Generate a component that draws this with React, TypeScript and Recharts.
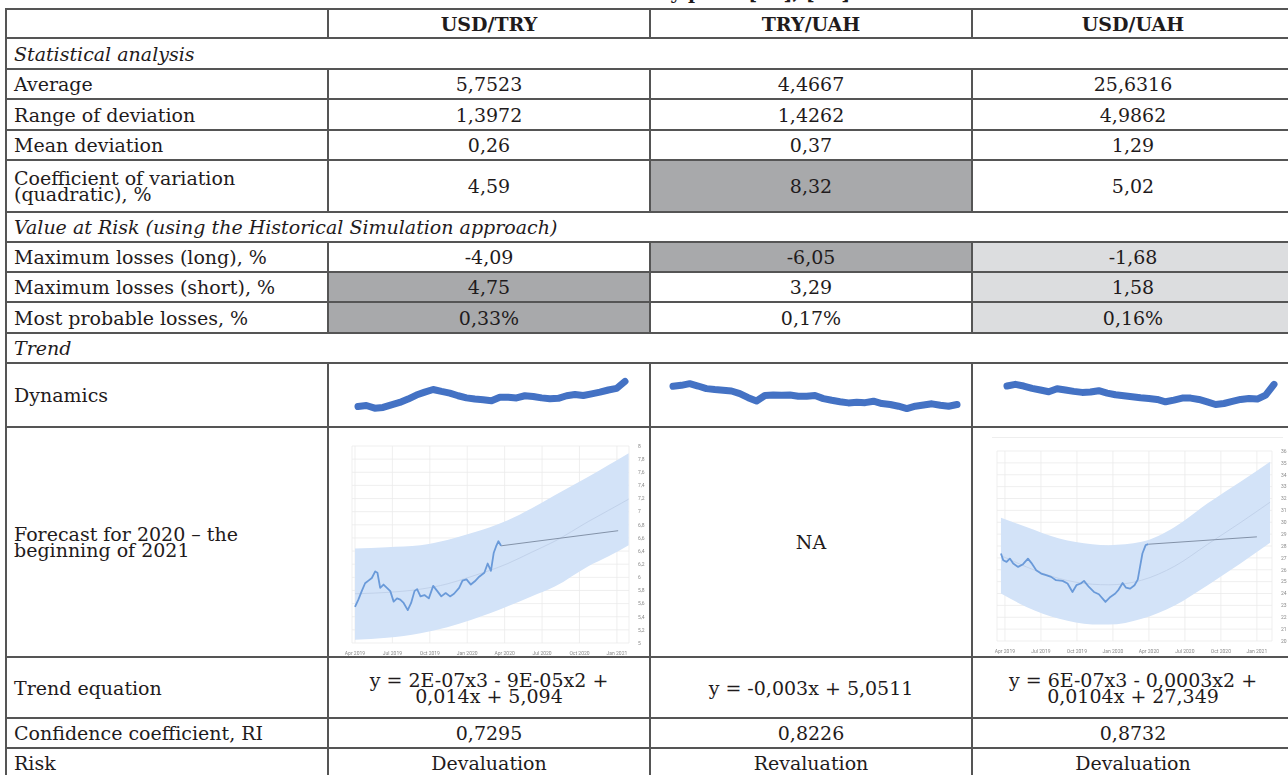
import React from 'react';
import {
  ComposedChart,
  LineChart,
  Line,
  Area,
  XAxis,
  YAxis,
  CartesianGrid,
} from 'recharts';

// table text
const pairs = ['USD/TRY', 'TRY/UAH', 'USD/UAH'];
const averageValues = ['5,7523', '4,4667', '25,6316'];
const rangeValues = ['1,3972', '1,4262', '4,9862'];
const meanDeviationValues = ['0,26', '0,37', '1,29'];
const variationValues = ['4,59', '8,32', '5,02'];
const lossesLongValues = ['-4,09', '-6,05', '-1,68'];
const lossesShortValues = ['4,75', '3,29', '1,58'];
const probableLossValues = ['0,33%', '0,17%', '0,16%'];
const trendEquations = [
  'y = 2E-07x3 - 9E-05x2 +\n0,014x + 5,094',
  'y = -0,003x + 5,0511',
  'y = 6E-07x3 - 0,0003x2 +\n0,0104x + 27,349',
];
const confidenceValues = ['0,7295', '0,8226', '0,8732'];
const riskValues = ['Devaluation', 'Revaluation', 'Devaluation'];

// dynamics sparklines (rates, evenly spaced observations)
const usdTryDynamics = [
  5.44, 5.48, 5.37, 5.4, 5.51, 5.61, 5.75, 5.92, 6.04, 6.15, 6.07, 6.0, 5.89,
  5.8, 5.75, 5.72, 5.68, 5.83, 5.83, 5.8, 5.89, 5.86, 5.8, 5.76, 5.78, 5.89,
  5.94, 5.9, 5.97, 6.04, 6.13, 6.2, 6.49,
];
const tryUahDynamics = [
  4.91, 4.95, 5.02, 4.92, 4.81, 4.77, 4.74, 4.71, 4.6, 4.43, 4.29, 4.52, 4.54,
  4.53, 4.54, 4.49, 4.49, 4.52, 4.39, 4.32, 4.26, 4.21, 4.24, 4.22, 4.28, 4.18,
  4.14, 4.07, 3.97, 4.07, 4.12, 4.17, 4.11, 4.07, 4.14,
];
const usdUahDynamics = [
  28.04, 28.39, 28.04, 27.55, 27.2, 26.85, 27.48, 27.2, 26.92, 26.71, 26.78,
  27.06, 26.57, 26.22, 26.01, 25.8, 25.59, 25.45, 25.24, 24.75, 25.1, 25.52,
  25.52, 25.24, 24.75, 24.19, 24.4, 24.82, 25.24, 25.45, 25.31, 26.15, 28.39,
];

// forecast charts: x = months since Apr 2019
const monthTicks = [0, 3, 6, 9, 12, 15, 18, 21];
const monthLabels = ['Apr 2019', 'Jul 2019', 'Oct 2019', 'Jan 2020', 'Apr 2020', 'Jul 2020', 'Oct 2020', 'Jan 2021'];

const usdTryTicks = [5, 5.2, 5.4, 5.6, 5.8, 6, 6.2, 6.4, 6.6, 6.8, 7, 7.2, 7.4, 7.6, 7.8, 8];
const usdTryActualMonths = [
  0, 0.27, 0.54, 0.81, 1.08, 1.35, 1.62, 1.8, 2.02, 2.29, 2.56, 2.83, 3.1,
  3.37, 3.63, 3.9, 4.23, 4.5, 4.77, 4.98, 5.25, 5.57, 5.92, 6.27, 6.6, 6.92,
  7.27, 7.62, 7.94, 8.35, 8.62, 8.94, 9.29, 9.61, 9.96, 10.37, 10.64, 10.9,
  11.12, 11.31, 11.5, 11.71,
];
const usdTryActual = [
  5.55, 5.66, 5.79, 5.91, 5.95, 5.99, 6.09, 6.07, 5.84, 5.89, 5.84, 5.79, 5.63,
  5.68, 5.66, 5.61, 5.5, 5.61, 5.79, 5.82, 5.71, 5.73, 5.68, 5.87, 5.79, 5.71,
  5.76, 5.71, 5.75, 5.84, 5.95, 5.97, 5.89, 5.94, 6.01, 6.07, 6.21, 6.1, 6.37,
  6.47, 6.55, 6.48,
];
const usdTryBandMonths = [0, 2.56, 5.25, 7.4, 9.29, 12.25, 14.14, 16.02, 18.71, 20.33, 21.94];
const usdTryBandLow = [5.05, 5.08, 5.15, 5.24, 5.35, 5.56, 5.71, 5.86, 6.17, 6.32, 6.49];
const usdTryBandHigh = [6.44, 6.46, 6.49, 6.57, 6.67, 6.87, 7.05, 7.25, 7.53, 7.71, 7.89];
const usdTryTrend = [5.75, 5.77, 5.82, 5.9, 6.01, 6.21, 6.38, 6.55, 6.85, 7.02, 7.19];
const usdTryForecastMonths = [11.71, 21.1];
const usdTryForecast = [6.48, 6.71];

const usdUahTicks = [20, 21, 22, 23, 24, 25, 26, 27, 28, 29, 30, 31, 32, 33, 34, 35, 36];
const usdUahActualMonths = [
  -0.33, -0.14, 0.14, 0.41, 0.69, 1.1, 1.51, 1.92, 2.2, 2.61, 3.02, 3.43, 3.85,
  4.26, 4.81, 5.22, 5.63, 5.96, 6.32, 6.59, 7.0, 7.42, 7.83, 8.38, 8.79, 9.2,
  9.48, 9.81, 10.08, 10.44, 10.8, 11.07, 11.26, 11.46, 11.73, 11.95,
];
const usdUahActual = [
  27.37, 26.8, 26.66, 26.94, 26.52, 26.24, 26.47, 26.94, 26.58, 25.96, 25.68,
  25.54, 25.4, 25.12, 25.06, 24.84, 24.13, 24.7, 24.84, 25.06, 24.55, 24.13,
  23.94, 23.29, 23.71, 24.0, 24.33, 24.89, 24.5, 24.41, 24.7, 25.17, 26.24,
  27.37, 28.07, 28.15,
];
const usdUahBandMonths = [-0.33, 1.79, 4.53, 7.28, 8.65, 11.4, 14.15, 16.9, 19.6, 22.1];
const usdUahBandLow = [24.0, 22.87, 21.88, 21.4, 21.38, 21.88, 23.0, 24.7, 26.5, 28.27];
const usdUahBandHigh = [30.38, 29.6, 28.63, 28.15, 28.07, 28.35, 29.6, 31.6, 33.4, 35.1];
const usdUahTrend = [27.19, 26.24, 25.26, 24.78, 24.73, 25.12, 26.3, 28.15, 29.95, 31.69];
const usdUahForecastMonths = [11.95, 21.0];
const usdUahForecast = [28.15, 28.77];

const FONT = '"DejaVu Serif", serif';
const INK = '#1f1b1c';
const LINE = '#555';
const DARK = '#a8a9ab';
const LIGHT = '#dcdddf';

const COLS = [6, 328, 650, 972, 1294];
const LINES = [9, 38, 69, 99, 130, 160, 212, 242, 272, 302, 333, 363, 427, 657, 718, 748, 778];

type Row = {
  kind: 'header' | 'section' | 'data';
  label: string;
  cells?: string[];
  fills?: (string | null)[];
};

const rows: Row[] = [
  { kind: 'header', label: '', cells: pairs },
  { kind: 'section', label: 'Statistical analysis' },
  { kind: 'data', label: 'Average', cells: averageValues },
  { kind: 'data', label: 'Range of deviation', cells: rangeValues },
  { kind: 'data', label: 'Mean deviation', cells: meanDeviationValues },
  { kind: 'data', label: 'Coefficient of variation\n(quadratic), %', cells: variationValues, fills: [null, DARK, null] },
  { kind: 'section', label: 'Value at Risk (using the Historical Simulation approach)' },
  { kind: 'data', label: 'Maximum losses (long), %', cells: lossesLongValues, fills: [null, DARK, LIGHT] },
  { kind: 'data', label: 'Maximum losses (short), %', cells: lossesShortValues, fills: [DARK, null, LIGHT] },
  { kind: 'data', label: 'Most probable losses, %', cells: probableLossValues, fills: [DARK, null, LIGHT] },
  { kind: 'section', label: 'Trend' },
  { kind: 'data', label: 'Dynamics', cells: ['', '', ''] },
  { kind: 'data', label: 'Forecast for 2020 \u2013 the\nbeginning of 2021', cells: ['', 'NA', ''] },
  { kind: 'data', label: 'Trend equation', cells: trendEquations },
  { kind: 'data', label: 'Confidence coefficient, RI', cells: confidenceValues },
  { kind: 'data', label: 'Risk', cells: riskValues },
];

function Sparkline({ values, left, top, width, height, domain }: {
  values: number[]; left: number; top: number; width: number; height: number; domain: [number, number];
}) {
  const data = values.map((v, i) => ({ i, v }));
  return (
    <div style={{ position: 'absolute', left, top, filter: 'blur(0.35px)' }}>
      <LineChart width={width} height={height} data={data} margin={{ top: 5, right: 5, bottom: 5, left: 5 }}>
        <XAxis dataKey="i" type="number" domain={[0, values.length - 1]} hide />
        <YAxis domain={domain} hide />
        <Line
          dataKey="v"
          stroke="#4472c4"
          strokeWidth={7}
          strokeLinejoin="round"
          strokeLinecap="round"
          dot={false}
          isAnimationActive={false}
        />
      </LineChart>
    </div>
  );
}

const fmtTick = (v: number) => String(v).replace('.', ',');

function ForecastChart({
  left, top, width, height, plotTop, plotRight, xDomain, yTicks,
  actualMonths, actual, bandMonths, bandLow, bandHigh, trend, forecastMonths, forecast,
}: {
  left: number; top: number; width: number; height: number; plotTop: number; plotRight: number;
  xDomain: [number, number]; yTicks: number[];
  actualMonths: number[]; actual: number[]; bandMonths: number[]; bandLow: number[];
  bandHigh: number[]; trend: number[]; forecastMonths: number[]; forecast: number[];
}) {
  const bandData = bandMonths.map((m, i) => ({ m, range: [bandLow[i], bandHigh[i]], trend: trend[i] }));
  const actualData = actualMonths.map((m, i) => ({ m, v: actual[i] }));
  const forecastData = forecastMonths.map((m, i) => ({ m, v: forecast[i] }));
  const tick = { fontSize: 5, fill: '#8a8a8a', fontFamily: 'Roboto' };
  return (
    <div style={{ position: 'absolute', left, top, filter: 'blur(0.4px)' }}>
      <ComposedChart width={width} height={height} margin={{ top: plotTop, right: plotRight, bottom: 4, left: 12 }}>
        <CartesianGrid stroke="#ebebeb" strokeWidth={0.8} />
        <XAxis
          dataKey="m"
          type="number"
          domain={xDomain}
          allowDataOverflow
          ticks={monthTicks}
          tickFormatter={(v: number) => monthLabels[monthTicks.indexOf(v)] ?? ''}
          tick={tick}
          tickLine={false}
          axisLine={false}
          height={10}
          tickMargin={2}
          interval={0}
        />
        <YAxis
          orientation="right"
          type="number"
          domain={[yTicks[0], yTicks[yTicks.length - 1]]}
          ticks={yTicks}
          tickFormatter={fmtTick}
          tick={tick}
          tickLine={false}
          axisLine={false}
          width={12}
          tickMargin={3}
          interval={0}
        />
        <Area
          data={bandData}
          dataKey="range"
          type="monotone"
          stroke="none"
          fill="#d3e3f8"
          fillOpacity={1}
          isAnimationActive={false}
        />
        <Line
          data={bandData}
          dataKey="trend"
          type="monotone"
          stroke="#bccde6"
          strokeWidth={0.8}
          dot={false}
          isAnimationActive={false}
        />
        <Line
          data={forecastData}
          dataKey="v"
          stroke="#8392a8"
          strokeWidth={1}
          dot={false}
          isAnimationActive={false}
        />
        <Line
          data={actualData}
          dataKey="v"
          stroke="#6a9ad9"
          strokeWidth={1.8}
          strokeLinejoin="round"
          dot={false}
          isAnimationActive={false}
        />
      </ComposedChart>
    </div>
  );
}

export default function App() {
  const cellText = (text: string, align: 'left' | 'center', italic = false, bold = false) => (
    <div
      style={{
        width: '100%',
        textAlign: align,
        whiteSpace: 'pre-line',
        lineHeight: '16px',
        fontStyle: italic ? 'italic' : 'normal',
        fontWeight: bold ? 'bold' : 'normal',
        paddingLeft: align === 'left' ? 8 : 0,
        boxSizing: 'border-box',
      }}
    >
      {text}
    </div>
  );

  const boxes: React.ReactNode[] = [];
  const rules: React.ReactNode[] = [];

  rows.forEach((row, r) => {
    const top = LINES[r];
    const h = LINES[r + 1] - top;
    if (row.kind === 'section') {
      boxes.push(
        <div key={`s${r}`} style={{ position: 'absolute', left: COLS[0], top, width: COLS[4] - COLS[0], height: h, display: 'flex', alignItems: 'center' }}>
          {cellText(row.label, 'left', true)}
        </div>
      );
      return;
    }
    boxes.push(
      <div key={`l${r}`} style={{ position: 'absolute', left: COLS[0], top, width: COLS[1] - COLS[0], height: h, display: 'flex', alignItems: 'center' }}>
        {cellText(row.label, 'left')}
      </div>
    );
    (row.cells ?? []).forEach((c, j) => {
      const fill = row.fills?.[j] ?? 'transparent';
      boxes.push(
        <div key={`c${r}-${j}`} style={{ position: 'absolute', left: COLS[j + 1], top, width: COLS[j + 2] - COLS[j + 1], height: h, background: fill, display: 'flex', alignItems: 'center' }}>
          {cellText(c, 'center', false, row.kind === 'header')}
        </div>
      );
    });
    [1, 2, 3].forEach((k) => {
      rules.push(
        <div key={`v${r}-${k}`} style={{ position: 'absolute', left: COLS[k] - 1, top, width: 2, height: h, background: LINE }} />
      );
    });
  });

  LINES.forEach((y, i) => {
    rules.push(
      <div key={`h${i}`} style={{ position: 'absolute', left: COLS[0] - 1, top: y - 1, width: COLS[4] - COLS[0] + 1, height: 2, background: LINE }} />
    );
  });
  rules.push(
    <div key="left" style={{ position: 'absolute', left: COLS[0] - 1, top: LINES[0] - 1, width: 2, height: LINES[LINES.length - 1] - LINES[0] + 2, background: LINE }} />
  );

  return (
    <div style={{ position: 'absolute', left: 0, top: 0, width: 1288, height: 775, overflow: 'hidden', background: '#fff', fontFamily: FONT, fontSize: 19, color: INK }}>
      <div style={{ position: 'absolute', left: 560, top: -19, width: 260, textAlign: 'center', fontWeight: 'bold', whiteSpace: 'nowrap' }}>
        of currency pairs [15], [16]
      </div>
      {boxes}

      <Sparkline values={usdTryDynamics} left={353} top={369} width={277} height={53} domain={[5.0, 6.8]} />
      <Sparkline values={tryUahDynamics} left={668} top={372} width={294} height={48} domain={[3.7, 5.3]} />
      <Sparkline values={usdUahDynamics} left={1002} top={374} width={277} height={46} domain={[22, 29.5]} />

      <ForecastChart
        left={340}
        top={436}
        width={308}
        height={221}
        plotTop={10}
        plotRight={7}
        xDomain={[-0.24, 21.97]}
        yTicks={usdTryTicks}
        actualMonths={usdTryActualMonths}
        actual={usdTryActual}
        bandMonths={usdTryBandMonths}
        bandLow={usdTryBandLow}
        bandHigh={usdTryBandHigh}
        trend={usdTryTrend}
        forecastMonths={usdTryForecastMonths}
        forecast={usdTryForecast}
      />
      <div style={{ position: 'absolute', left: 992, top: 437, width: 291, height: 1, background: '#eeeeee' }} />
      <ForecastChart
        left={985}
        top={441}
        width={302}
        height={214}
        plotTop={10}
        plotRight={3}
        xDomain={[-0.66, 22.26]}
        yTicks={usdUahTicks}
        actualMonths={usdUahActualMonths}
        actual={usdUahActual}
        bandMonths={usdUahBandMonths}
        bandLow={usdUahBandLow}
        bandHigh={usdUahBandHigh}
        trend={usdUahTrend}
        forecastMonths={usdUahForecastMonths}
        forecast={usdUahForecast}
      />
      {rules}
    </div>
  );
}
